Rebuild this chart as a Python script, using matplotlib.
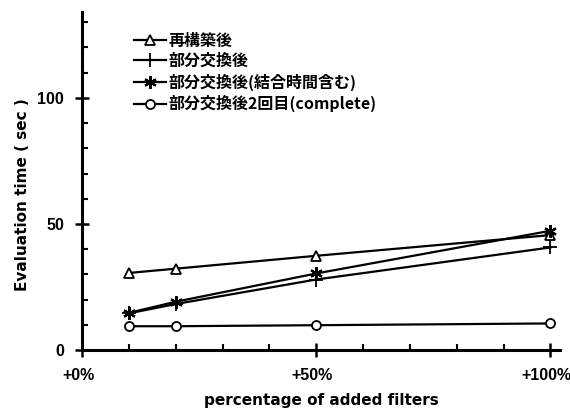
import matplotlib
matplotlib.use("Agg")
import matplotlib.pyplot as plt
from matplotlib.ticker import MultipleLocator
from matplotlib.transforms import ScaledTranslation

plt.rcParams['font.family'] = ['Noto Sans CJK JP', 'DejaVu Sans']

# percentage of filters added
added_pct = [10, 20, 50, 100]

# evaluation time (sec) per strategy
rebuild = [30.6, 32.3, 37.4, 45.6]
partial = [14.6, 18.3, 28.0, 40.7]
partial_with_join = [14.8, 19.2, 30.4, 47.3]
partial_second = [9.5, 9.5, 9.9, 10.6]

series_labels = ["再構築後", "部分交換後", "部分交換後(結合時間含む)", "部分交換後2回目(complete)"]
x_tick_vals = [0, 50, 100]
x_tick_labels = ["+0%", "+50%", "+100%"]
y_tick_vals = [0, 50, 100]
y_tick_labels = ["0", "50", "100"]

fig = plt.figure(figsize=(5.7, 4.12), dpi=100)
ax = fig.add_axes([0.144, 0.150, 0.838, 0.821])

styles = [
    dict(marker='^', ms=7, mfc='white', mew=1.3),
    dict(marker='+', ms=10, mew=1.3),
    dict(marker=(6, 2, 0), ms=9, mew=1.6),
    dict(marker='o', ms=6.5, mfc='white', mew=1.3),
]
for ys, lab, st in zip([rebuild, partial, partial_with_join, partial_second], series_labels, styles):
    ax.plot(added_pct, ys, color='black', lw=1.6, mec='black', label=lab, **st)

ax.set_xlim(0, 102)
ax.set_ylim(0, 134)

for s in ['top', 'right']:
    ax.spines[s].set_visible(False)
for s in ['left', 'bottom']:
    ax.spines[s].set_linewidth(2.2)

tick_font = dict(family=['Liberation Sans Narrow', 'Liberation Sans', 'DejaVu Sans'],
                 fontweight='bold', fontsize=11.5)
ax.set_xticks(x_tick_vals)
ax.set_xticklabels(x_tick_labels, **tick_font)
ax.set_yticks(y_tick_vals)
ax.set_yticklabels(y_tick_labels, **tick_font)
ax.xaxis.set_minor_locator(MultipleLocator(10))
ax.yaxis.set_minor_locator(MultipleLocator(10))
ax.tick_params(which='major', direction='inout', length=10, width=1.8, pad=8)
ax.tick_params(which='minor', direction='in', length=4, width=1.5)
# x tick labels sit a little to the left of their ticks
shift = ScaledTranslation(-4 / 100, 0, fig.dpi_scale_trans)
for t in ax.get_xticklabels():
    t.set_transform(t.get_transform() + shift)

ax.set_xlabel("percentage of added filters", fontsize=11, fontweight='bold', family=['DejaVu Sans'], labelpad=7)
ax.set_ylabel("Evaluation time ( sec )", fontsize=11, fontweight='bold', family=['DejaVu Sans'])
ax.yaxis.set_label_coords(-0.108, 0.46)

leg = ax.legend(loc='upper left', bbox_to_anchor=(0.095, 0.958), frameon=False,
                prop=dict(family=['Noto Sans CJK JP', 'DejaVu Sans'], weight='bold', size=11.5),
                handlelength=2.0, handletextpad=0.2, labelspacing=0.28, borderaxespad=0)

fig.savefig("out.png", dpi=100)
